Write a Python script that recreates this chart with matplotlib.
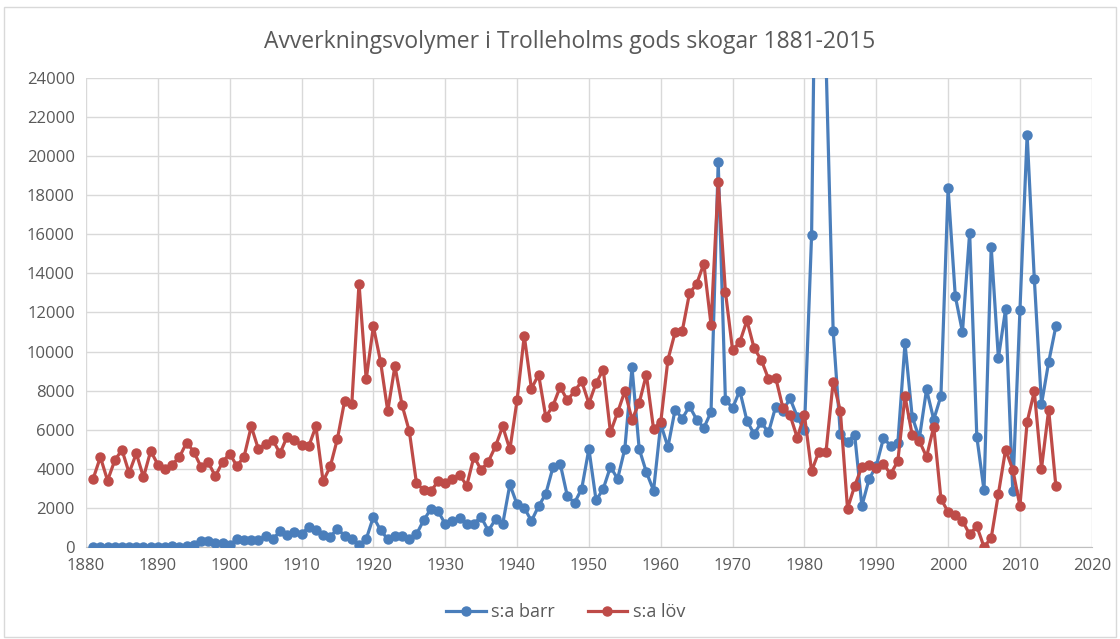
import matplotlib
matplotlib.use("Agg")
import matplotlib.pyplot as plt
from matplotlib.patches import Rectangle

title = "Avverkningsvolymer i Trolleholms gods skogar 1881-2015"
series_names = ["s:a barr", "s:a löv"]
years = list(range(1881, 2016))

barr = [0, 0, 0, 0, 0, 0, 0, 0, 0, 0,
        0, 50, 0, 50, 100, 300, 300, 200, 200, 100,
        400, 350, 350, 350, 550, 400, 800, 600, 750, 650,
        1030, 860, 620, 520, 940, 570, 400, 100, 400, 1540,
        860, 400, 570, 570, 400, 650, 1370, 1940, 1850, 1170,
        1340, 1460, 1170, 1200, 1540, 820, 1420, 1170, 3200, 2180,
        2010, 1330, 2090, 2720, 4080, 4270, 2600, 2260, 2980, 5020,
        2380, 2980, 4100, 3490, 5020, 9190, 5020, 3830, 2890, 6300,
        5110, 7030, 6570, 7200, 6520, 6090, 6910, 19700, 7540, 7110,
        8000, 6460, 5780, 6370, 5860, 7180, 6970, 7600, 6670, 5980,
        15980, 45000, 25000, 11070, 5780, 5390, 5730, 2100, 3470, 4150,
        5560, 5190, 5300, 10420, 6670, 5560, 8060, 6520, 7720, 18360,
        12840, 11000, 16080, 5630, 2900, 15350, 9670, 12160, 2850, 12110,
        21090, 13730, 7300, 9460, 11290]

lov = [3500, 4600, 3400, 4430, 4970, 3790, 4790, 3570, 4910, 4220,
       3970, 4220, 4600, 5340, 4880, 4100, 4340, 3620, 4340, 4780,
       4140, 4620, 6170, 5000, 5290, 5480, 4790, 5650, 5480, 5200,
       5150, 6170, 3360, 4120, 5540, 7480, 7340, 13480, 8580, 11290,
       9480, 6960, 9260, 7250, 5930, 3260, 2920, 2850, 3360, 3260,
       3480, 3690, 3140, 4630, 3940, 4370, 5150, 6170, 4990, 7500,
       10810, 8100, 8820, 6650, 7230, 8190, 7510, 7970, 8480, 7340,
       8390, 9070, 5870, 6890, 7970, 6520, 7370, 8820, 6040, 6380,
       9580, 10980, 11060, 12980, 13460, 14500, 11380, 18680, 13070, 10080,
       10480, 11590, 10170, 9570, 8600, 8660, 7130, 6750, 5590, 6750,
       3880, 4870, 4840, 8460, 6970, 1960, 3130, 4100, 4190, 4020,
       4240, 3730, 4390, 7720, 5730, 5420, 4610, 6150, 2470, 1790,
       1650, 1330, 650, 1060, 0, 460, 2730, 4980, 3960, 2100,
       6390, 7960, 4010, 7020, 3120]

x_ticks = list(range(1880, 2021, 10))
y_ticks = list(range(0, 24001, 2000))

plt.rcParams['font.family'] = ['Open Sans', 'DejaVu Sans']
txt = '#595959'
fig = plt.figure(figsize=(11.2, 6.39), dpi=100)
fig.patches.append(Rectangle((0.004, 0.003), 0.992, 0.986, transform=fig.transFigure,
                             fill=False, edgecolor='#D9D9D9', linewidth=1))
ax = fig.add_axes([0.0768, 0.144, 0.898, 0.734])

ax.plot(years, barr, color='#4A7EBB', linewidth=2.3, marker='o', markersize=6.5,
        label=series_names[0], zorder=3)
ax.plot(years, lov, color='#BE4B48', linewidth=2.3, marker='o', markersize=6.5,
        label=series_names[1], zorder=3)

ax.set_xlim(1880, 2020)
ax.set_ylim(0, 24000)
ax.set_xticks(x_ticks)
ax.set_yticks(y_ticks)
ax.grid(True, color='#D9D9D9', linewidth=1)
ax.set_axisbelow(True)
for s in ['top', 'right', 'left']:
    ax.spines[s].set_visible(False)
ax.spines['bottom'].set_color('#BFBFBF')
ax.tick_params(axis='both', length=0, labelsize=12, labelcolor=txt, pad=8)

fig.text(0.509, 0.934, title, ha='center', va='center', fontsize=16.5, color=txt)
leg = fig.legend(loc='center', bbox_to_anchor=(0.505, 0.042), ncol=2, frameon=False,
                 fontsize=13, labelcolor=txt, handlelength=2.2, columnspacing=1.8,
                 handletextpad=0.3)
fig.savefig('out.png', dpi=100)
